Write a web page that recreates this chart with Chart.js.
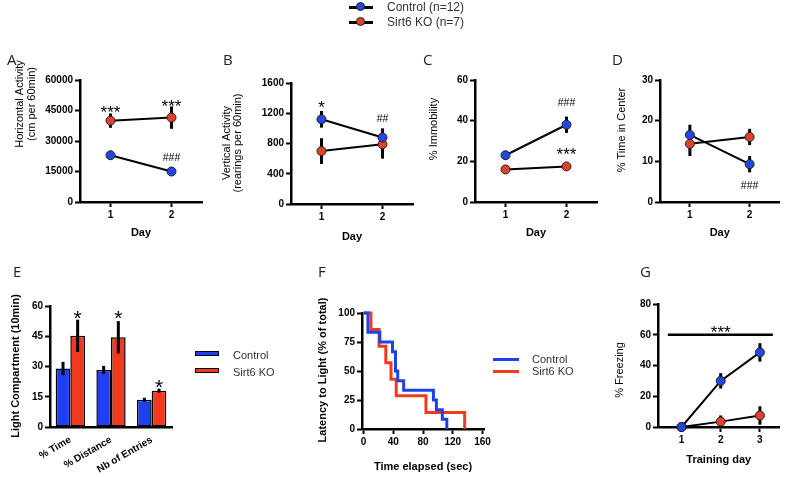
<!DOCTYPE html>
<html>
<head>
<meta charset="utf-8">
<script src="https://cdn.jsdelivr.net/npm/chart.js@4.4.1/dist/chart.umd.min.js"></script>
<style>
  body { margin: 0; background: #fff; }
  #page { position: relative; width: 785px; height: 477px; overflow: hidden; background: #fff; }
  #page canvas { position: absolute; left: 0; top: 0; }
  .letter { position: absolute; font: 15px "Open Sans", sans-serif; color: #222; line-height: 15px; }
  .leg { position: absolute; font: 11px "Liberation Sans", Arial, sans-serif; color: #333; line-height: 12px; white-space: nowrap; }
  .top { font-size: 12px; line-height: 14px; }
  .box { position: absolute; width: 22px; height: 3px; border: 1.5px solid #000; }
  .ln { position: absolute; height: 3px; }
  .dot { position: absolute; width: 7px; height: 7px; border-radius: 50%; border: 1px solid #222; }
</style>
</head>
<body>
<div id="page">
  <canvas id="cA" width="785" height="477"></canvas>
  <canvas id="cB" width="785" height="477"></canvas>
  <canvas id="cC" width="785" height="477"></canvas>
  <canvas id="cD" width="785" height="477"></canvas>
  <canvas id="cE" width="785" height="477"></canvas>
  <canvas id="cF" width="785" height="477"></canvas>
  <canvas id="cG" width="785" height="477"></canvas>

  <!-- top legend -->
  <div class="ln" style="left:349px;top:6px;width:24px;background:#000"></div>
  <div class="dot" style="left:356px;top:2px;background:#2347e2"></div>
  <div class="leg top" style="left:387px;top:0px">Control (n=12)</div>
  <div class="ln" style="left:349px;top:21px;width:24px;background:#000"></div>
  <div class="dot" style="left:356px;top:17px;background:#e0412b"></div>
  <div class="leg top" style="left:387px;top:15px">Sirt6 KO (n=7)</div>

  <!-- panel letters -->
  <div class="letter" style="left:7px;top:52px">A</div>
  <div class="letter" style="left:223px;top:52px">B</div>
  <div class="letter" style="left:423px;top:52px">C</div>
  <div class="letter" style="left:612px;top:52px">D</div>
  <div class="letter" style="left:13px;top:264px">E</div>
  <div class="letter" style="left:318px;top:264px">F</div>
  <div class="letter" style="left:640px;top:264px">G</div>

  <!-- E legend -->
  <div class="box" style="left:195px;top:351px;background:#1f3ff2"></div>
  <div class="leg" style="left:233px;top:349px">Control</div>
  <div class="box" style="left:195px;top:368px;background:#f03a1e"></div>
  <div class="leg" style="left:233px;top:366px">Sirt6 KO</div>

  <!-- F legend -->
  <div class="ln" style="left:493px;top:358px;width:26px;background:#1a44ea"></div>
  <div class="leg" style="left:532px;top:353px">Control</div>
  <div class="ln" style="left:493px;top:370px;width:26px;background:#f03a1e"></div>
  <div class="leg" style="left:532px;top:365px">Sirt6 KO</div>
</div>

<script>
// ---- data ----
const days = [1, 2];
const trainingDays = [1, 2, 3];

// A: horizontal activity (cm per 60min)
const horizTicks = [0, 15000, 30000, 45000, 60000];
const horizCtrl = [23000, 15000];
const horizCtrlErr = [700, 1500];
const horizKO = [40000, 41500];
const horizKOErr = [3500, 5500];

// B: vertical activity (rearings per 60min)
const vertTicks = [0, 400, 800, 1200, 1600];
const vertCtrl = [1120, 880];
const vertCtrlErr = [110, 120];
const vertKO = [700, 790];
const vertKOErr = [170, 190];

// C: % immobility
const immobTicks = [0, 20, 40, 60];
const immobCtrl = [23, 38];
const immobCtrlErr = [2, 4];
const immobKO = [16, 17.5];
const immobKOErr = [1, 1.5];

// D: % time in center
const centerTicks = [0, 10, 20, 30];
const centerCtrl = [16.5, 9.3];
const centerCtrlErr = [2.5, 2];
const centerKO = [14.3, 16];
const centerKOErr = [3, 2];

// E: light compartment (10min)
const lightCats = ['% Time', '% Distance', 'Nb of Entries'];
const lightTicks = [0, 15, 30, 45, 60];
const lightCtrl = [29, 28.3, 13.5];
const lightCtrlErr = [3.3, 2, 1];
const lightKO = [45.2, 44.5, 18];
const lightKOErr = [8, 8, 1];

// F: latency to light (% of total), Kaplan-Meier steps
const latXTicks = [0, 40, 80, 120, 160];
const latYTicks = [0, 25, 50, 75, 100];
const latCtrlTime = [0, 6, 22, 39, 43, 46, 54, 94, 98, 106, 112];
const latCtrlPct = [100, 83.3, 75, 66.7, 50, 41.7, 33.3, 25, 16.7, 8.3, 0];
const latKOTime = [0, 10, 21, 30, 37, 44, 84, 136];
const latKOPct = [100, 85.7, 71.4, 57.1, 42.9, 28.6, 14.3, 0];

// G: % freezing
const freezeTicks = [0, 20, 40, 60, 80];
const freezeCtrl = [0, 30, 48.5];
const freezeCtrlErr = [0, 5, 6];
const freezeKO = [0, 3.5, 7.5];
const freezeKOErr = [0, 4, 6];

// ---- styling ----
const W = 785, H = 477;
const FONT = "'Liberation Sans', Arial, sans-serif";
const PT_BLUE = '#2347e2', PT_RED = '#e0412b';
const BAR_BLUE = '#1f3ff2', BAR_RED = '#f03a1e';
const LINE_BLUE = '#1a44ea', LINE_RED = '#f03a1e';
const STAR = 17, HASH = 10.5;

Chart.defaults.font.family = FONT;
Chart.defaults.color = '#000';
Chart.defaults.animation = false;
Chart.defaults.events = [];
Chart.defaults.plugins.legend.display = false;
Chart.defaults.plugins.tooltip.enabled = false;

// error bars, significance marks, rules and side titles
function drawErrors(chart) {
  const ctx = chart.ctx, ys = chart.scales.y;
  ctx.save();
  ctx.strokeStyle = '#000';
  ctx.lineWidth = 3;
  chart.data.datasets.forEach((ds, i) => {
    if (!ds.errors) return;
    chart.getDatasetMeta(i).data.forEach((el, j) => {
      const e = ds.errors[j];
      if (!e) return;
      const d = ds.data[j];
      const v = typeof d === 'object' ? d.y : d;
      ctx.beginPath();
      ctx.moveTo(el.x, ys.getPixelForValue(v + e));
      ctx.lineTo(el.x, ys.getPixelForValue(v - e));
      ctx.stroke();
    });
  });
  ctx.restore();
}

const extras = {
  id: 'extras',
  beforeDatasetsDraw(chart, args, opts) {
    if (!opts.errAfter) drawErrors(chart);
  },
  afterDatasetsDraw(chart, args, opts) {
    if (opts.errAfter) drawErrors(chart);
    const ctx = chart.ctx, xs = chart.scales.x, ys = chart.scales.y;
    ctx.save();
    ctx.fillStyle = '#000';
    ctx.strokeStyle = '#000';
    ctx.textAlign = 'center';
    ctx.textBaseline = 'alphabetic';
    (opts.marks || []).forEach(m => {
      const size = m.size || STAR;
      const star = m.text.charAt(0) === '*';
      ctx.font = size + 'px ' + FONT;
      const x = m.ds != null ? chart.getDatasetMeta(m.ds).data[m.idx].x : xs.getPixelForValue(m.x);
      const y = ys.getPixelForValue(m.y) + (star ? 0.57 : 0.36) * size;
      ctx.fillText(m.text, x, y);
    });
    (opts.rules || []).forEach(r => {
      ctx.lineWidth = 2.5;
      ctx.beginPath();
      ctx.moveTo(xs.getPixelForValue(r.x1), ys.getPixelForValue(r.y));
      ctx.lineTo(xs.getPixelForValue(r.x2), ys.getPixelForValue(r.y));
      ctx.stroke();
    });
    const t = opts.yTitle;
    if (t) {
      ctx.font = t.font;
      ctx.textBaseline = 'middle';
      t.lines.forEach(([text, x]) => {
        ctx.save();
        ctx.translate(x, t.y);
        ctx.rotate(-Math.PI / 2);
        ctx.fillText(text, 0, 0);
        ctx.restore();
      });
    }
    ctx.restore();
  }
};

// plot box: [left, top, right, bottom, x-axis height]
function frame(b) {
  return { left: b[0] - 40, top: b[1], right: W - b[2], bottom: H - b[3] - b[4] };
}

function scales(o) {
  const tickFont = { size: 10, weight: 'bold' };
  const grid = { drawOnChartArea: false, tickLength: 5, tickWidth: 2, tickColor: '#000', color: '#000' };
  const border = { color: '#000', width: 2.5 };
  const xTickOpts = { color: '#000', font: tickFont, padding: 2, autoSkip: false,
                      maxRotation: o.rot || 0, minRotation: o.rot || 0 };
  if (o.xType !== 'category') xTickOpts.callback = v => v;
  const x = {
    type: o.xType || 'linear',
    offset: o.xType === 'category',
    afterFit: s => { s.height = o.box[4]; },
    border,
    grid: o.xNoTicks ? Object.assign({}, grid, { tickColor: 'rgba(0,0,0,0)' }) : grid,
    ticks: xTickOpts,
    title: { display: !!o.xTitle, text: o.xTitle || '', color: '#000', padding: 0,
             font: o.xTitleFont || { size: 11, weight: 'bold' } }
  };
  if (o.xRange) { x.min = o.xRange[0]; x.max = o.xRange[1]; }
  if (o.xTicks) x.afterBuildTicks = s => { s.ticks = o.xTicks.map(v => ({ value: v })); };
  return {
    x,
    y: {
      min: o.yTicks[0], max: o.yTicks[o.yTicks.length - 1],
      afterBuildTicks: s => { s.ticks = o.yTicks.map(v => ({ value: v })); },
      afterFit: s => { s.width = 40; },
      border, grid,
      ticks: { color: '#000', font: tickFont, padding: 2, callback: v => v }
    }
  };
}

function series(label, xs, ys, errs, fill) {
  return {
    label, errors: errs,
    data: xs.map((x, i) => ({ x, y: ys[i] })),
    borderColor: '#000', borderWidth: 2,
    pointRadius: 4.5, pointBackgroundColor: fill, pointBorderColor: '#222', pointBorderWidth: 1,
    clip: false
  };
}

function groupChart(id, o) {
  return new Chart(document.getElementById(id), {
    type: 'line',
    data: { datasets: [
      series('Control', o.x, o.ctrl, o.ctrlErr, PT_BLUE),
      series('Sirt6 KO', o.x, o.ko, o.koErr, PT_RED)
    ] },
    options: {
      responsive: false,
      layout: { padding: frame(o.box) },
      scales: scales(o),
      plugins: { extras: { marks: o.marks, rules: o.rules, yTitle: o.yTitle } }
    },
    plugins: [extras]
  });
}

const regular = '11px ' + FONT;
const bold = 'bold 11px ' + FONT;

groupChart('cA', {
  box: [80, 80, 202, 202, 38], x: days, xRange: [0.5, 2.5], xTicks: days, xTitle: 'Day',
  yTicks: horizTicks, ctrl: horizCtrl, ctrlErr: horizCtrlErr, ko: horizKO, koErr: horizKOErr,
  marks: [{ x: 1, y: 46200, text: '***' }, { x: 2, y: 49200, text: '***' },
          { x: 2, y: 22100, text: '###', size: HASH }],
  yTitle: { font: regular, y: 104, lines: [['Horizontal Activity', 20], ['(cm per 60min)', 32]] }
});

groupChart('cB', {
  box: [291, 83, 413, 204, 40], x: days, xRange: [0.5, 2.5], xTicks: days, xTitle: 'Day',
  yTicks: vertTicks, ctrl: vertCtrl, ctrlErr: vertCtrlErr, ko: vertKO, koErr: vertKOErr,
  marks: [{ x: 1, y: 1335, text: '*' }, { x: 2, y: 1137, text: '##', size: HASH }],
  yTitle: { font: regular, y: 143, lines: [['Vertical Activity', 227], ['(rearings per 60min)', 238]] }
});

groupChart('cC', {
  box: [475, 80, 597, 202, 38], x: days, xRange: [0.5, 2.5], xTicks: days, xTitle: 'Day',
  yTicks: immobTicks, ctrl: immobCtrl, ctrlErr: immobCtrlErr, ko: immobKO, koErr: immobKOErr,
  marks: [{ x: 2, y: 49.2, text: '###', size: HASH }, { x: 2, y: 25.6, text: '***' }],
  yTitle: { font: regular, y: 129, lines: [['% Immobility', 434]] }
});

groupChart('cD', {
  box: [660, 80, 782, 202, 38], x: days, xRange: [0.5, 2.5], xTicks: days, xTitle: 'Day',
  yTicks: centerTicks, ctrl: centerCtrl, ctrlErr: centerCtrlErr, ko: centerKO, koErr: centerKOErr,
  marks: [{ x: 2, y: 4.2, text: '###', size: HASH }],
  yTitle: { font: regular, y: 130, lines: [['% Time in Center', 622]] }
});

groupChart('cG', {
  box: [658, 304, 782, 427, 40], x: trainingDays, xRange: [0.4, 3.5], xTicks: trainingDays,
  xTitle: 'Training day',
  yTicks: freezeTicks, ctrl: freezeCtrl, ctrlErr: freezeCtrlErr, ko: freezeKO, koErr: freezeKOErr,
  marks: [{ x: 2, y: 64.4, text: '***' }],
  rules: [{ x1: 0.65, x2: 3.33, y: 60 }],
  yTitle: { font: regular, y: 370, lines: [['% Freezing', 620]] }
});

// E: grouped bars
const optsE = { box: [50, 306, 172, 427, 50], xType: 'category', xNoTicks: true, rot: 30, yTicks: lightTicks };
new Chart(document.getElementById('cE'), {
  type: 'bar',
  data: {
    labels: lightCats,
    datasets: [
      { label: 'Control', data: lightCtrl, errors: lightCtrlErr, backgroundColor: BAR_BLUE,
        borderColor: '#000', borderWidth: 1.5, borderSkipped: false },
      { label: 'Sirt6 KO', data: lightKO, errors: lightKOErr, backgroundColor: BAR_RED,
        borderColor: '#000', borderWidth: 1.5, borderSkipped: false }
    ]
  },
  options: {
    responsive: false,
    layout: { padding: frame(optsE.box) },
    datasets: { bar: { barPercentage: 1, categoryPercentage: 0.72 } },
    scales: scales(optsE),
    plugins: { extras: {
      errAfter: true,
      marks: [{ ds: 1, idx: 0, y: 56.5, text: '*', size: 21 }, { ds: 1, idx: 1, y: 56.5, text: '*', size: 21 },
              { ds: 1, idx: 2, y: 22.3, text: '*', size: 21 }],
      yTitle: { font: bold, y: 366, lines: [['Light Compartment (10min)', 16]] }
    } }
  },
  plugins: [extras]
});

// F: step curves
const optsF = { box: [362, 313, 484, 429, 45], xRange: [-2, 162], xTicks: latXTicks, yTicks: latYTicks,
                xTitle: 'Time elapsed (sec)' };
new Chart(document.getElementById('cF'), {
  type: 'line',
  data: { datasets: [
    { label: 'Control', data: latCtrlTime.map((t, i) => ({ x: t, y: latCtrlPct[i] })),
      borderColor: LINE_BLUE, borderWidth: 3, pointRadius: 0, stepped: 'before', clip: false },
    { label: 'Sirt6 KO', data: latKOTime.map((t, i) => ({ x: t, y: latKOPct[i] })),
      borderColor: LINE_RED, borderWidth: 3, pointRadius: 0, stepped: 'before', clip: false }
  ] },
  options: {
    responsive: false,
    layout: { padding: frame(optsF.box) },
    scales: scales(optsF),
    plugins: { extras: { yTitle: { font: bold, y: 370, lines: [['Latency to Light (% of total)', 323]] } } }
  },
  plugins: [extras]
});
</script>
</body>
</html>
